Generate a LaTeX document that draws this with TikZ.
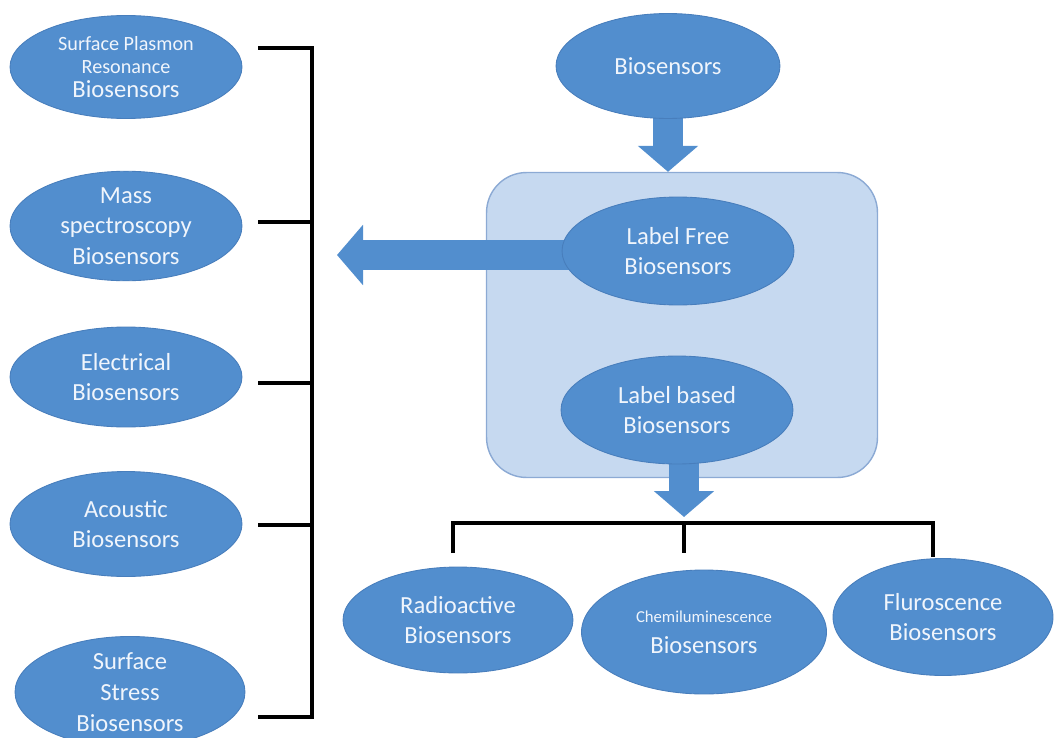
\documentclass[tikz,border=0pt]{standalone}
\usepackage{fontspec}
\setmainfont{Carlito}
\usetikzlibrary{shapes.geometric,arrows.meta,backgrounds}

\definecolor{sensorblue}{RGB}{82,142,206}
\definecolor{sensoredge}{RGB}{72,126,188}
\definecolor{framefill}{RGB}{198,217,240}
\definecolor{frameedge}{RGB}{140,170,212}
\definecolor{sensortext}{RGB}{240,245,252}

\begin{document}
\begin{tikzpicture}[
    x=0.02cm, y=-0.02cm,
    % node styles
    sensor/.style={
        ellipse, draw=sensoredge, line width=0.5pt, fill=sensorblue,
        inner sep=0pt, minimum width=4.64cm, minimum height=2.1cm,
        align=center, text=sensortext,
        font=\fontsize{14}{17.5}\selectfont
    },
    framebox/.style={
        rectangle, draw=frameedge, line width=0.8pt, fill=framefill,
        minimum width=7.82cm, minimum height=6.1cm,
        rounded corners=0.8cm
    },
    blockarrow/.style={
        draw=sensorblue, line width=0.6cm,
        -{Triangle[length=0.52cm, width=1.18cm]}
    },
    bracket/.style={draw=black, line width=1.9pt}
]

\useasboundingbox (0,0) rectangle (1054,737);
\clip (0,0) rectangle (1054,737);

% Frame round the two families
\begin{scope}[on background layer]
    \node[framebox] (frame) at (682,325) {};
\end{scope}

% Label free family (left column)
\node[sensor, minimum height=2.06cm] (spr) at (126,67) {%
    \fontsize{11.5}{13}\selectfont Surface Plasmon\\[-4pt]
    \fontsize{11.5}{13}\selectfont Resonance\\[-4pt]
    Biosensors};
\node[sensor, minimum height=2.16cm] (mass) at (126,226) {Mass\\spectroscopy\\Biosensors};
\node[sensor, minimum height=2cm] (elec) at (126,377) {Electrical\\Biosensors};
\node[sensor] (acou) at (126,524) {Acoustic\\Biosensors};
\node[sensor, minimum width=4.6cm, minimum height=2.2cm] (stress) at (130,692) {Surface\\Stress\\Biosensors};

% Main branch
\node[sensor, minimum width=4.48cm] (bio) at (668,66) {Biosensors};
\node[sensor, minimum height=2.16cm] (free) at (678,251) {Label Free\\Biosensors};
\node[sensor, minimum height=2.16cm] (based) at (677,410) {Label based\\Biosensors};

% Label based family (bottom row)
\node[sensor, minimum width=4.6cm, minimum height=2.12cm] (radio) at (458,620) {Radioactive\\Biosensors};
\node[sensor, minimum width=4.9cm, minimum height=2.48cm] (chemi) at (704,632) {%
    \fontsize{9.5}{12}\selectfont Chemiluminescence\\
    Biosensors};
\node[sensor, minimum width=4.4cm, minimum height=2.34cm] (fluro) at (943,617) {Fluroscence\\Biosensors};

% Bracket ends
\coordinate (spinetop) at (312,48);
\coordinate (spinebot) at (312,717);
\foreach \n/\y in {spr/48,mass/222,elec/383,acou/525,stress/717}
    \coordinate (\n-tick) at (258,\y);
\coordinate (freetip) at (337,255);
\coordinate (hub) at (684,523);
\coordinate (radio-end) at (453,553);
\coordinate (chemi-end) at (684,553);
\coordinate (fluro-end) at (933,557);

% Block arrows
\begin{scope}[on background layer]
    \draw[blockarrow] (bio.center) -- (bio.center |- frame.north);
    \draw[blockarrow] (free.center |- freetip) -- (freetip);
    \draw[blockarrow] (based.center -| hub) -- ([yshift=0.12cm]hub);
\end{scope}

% Left bracket
\draw[bracket] (spr-tick) -| (spinebot) -- (stress-tick);
\foreach \n in {mass,elec,acou}
    \draw[bracket] (\n-tick) -- (\n-tick -| spinetop);

% Bottom bracket
\draw[bracket] (radio-end) |- (hub) -| (fluro-end);
\draw[bracket] (hub) -- (chemi-end);

\end{tikzpicture}
\end{document}
